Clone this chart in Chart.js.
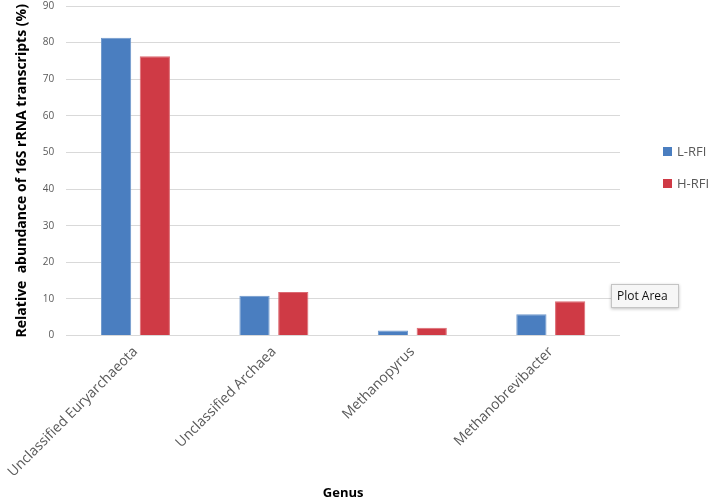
<!DOCTYPE html>
<html>
<head>
<meta charset="utf-8">
<script src="https://cdn.jsdelivr.net/npm/chart.js@4"></script>
<style>
  html, body { margin: 0; padding: 0; background: #fff; }
  #wrap { width: 714px; height: 501px; }
</style>
</head>
<body>
<div id="wrap"><canvas id="myChart"></canvas></div>
<script>
const genera = ["Unclassified Euryarchaeota", "Unclassified Archaea", "Methanopyrus", "Methanobrevibacter"];
const lowRfi = [81.3, 10.9, 1.4, 5.8];
const highRfi = [76.3, 11.9, 2.1, 9.4];
const seriesNames = ["L-RFI", "H-RFI"];
const yTicks = [0, 10, 20, 30, 40, 50, 60, 70, 80, 90];

// legend on the right, drawn by hand so it sits where the original one does
const sideLegend = {
    id: "sideLegend",
    afterDraw(chart) {
        const ctx = chart.ctx;
        ctx.save();
        chart.data.datasets.forEach((ds, i) => {
            const y = 152 + i * 32;
            ctx.fillStyle = ds.backgroundColor;
            ctx.fillRect(663, y - 5, 9, 9);
            ctx.fillStyle = "#595959";
            ctx.font = "13px 'Open Sans'";
            ctx.textBaseline = "middle";
            ctx.fillText(ds.label, 677, y);
        });
        // the "Plot Area" hover tip from the screenshot
        ctx.shadowColor = "rgba(0,0,0,0.25)";
        ctx.shadowBlur = 3;
        ctx.shadowOffsetY = 1;
        ctx.fillStyle = "#f6f6f6";
        ctx.fillRect(611, 284, 68, 24);
        ctx.shadowColor = "transparent";
        ctx.strokeStyle = "#c4c4c4";
        ctx.lineWidth = 1;
        ctx.strokeRect(611.5, 284.5, 67, 23);
        ctx.fillStyle = "#111";
        ctx.font = "12px 'Open Sans'";
        ctx.textBaseline = "middle";
        ctx.fillText("Plot Area", 617, 296.5);
        ctx.restore();
    }
};

new Chart("myChart", {
    type: "bar",
    data: {
        labels: genera,
        datasets: [{
            label: seriesNames[0],
            data: lowRfi,
            backgroundColor: "#4a7ec0",
            borderColor: "#6f98cc",
            borderWidth: 1,
            categoryPercentage: 0.56,
            barPercentage: 0.78
        }, {
            label: seriesNames[1],
            data: highRfi,
            backgroundColor: "#cf3a45",
            borderColor: "#dc6a72",
            borderWidth: 1,
            categoryPercentage: 0.56,
            barPercentage: 0.78
        }]
    },
    options: {
        responsive: true,
        maintainAspectRatio: false,
        animation: false,
        layout: { padding: { left: 14, right: 94, top: 0, bottom: 0 } },
        plugins: {
            legend: { display: false },
            tooltip: { enabled: false }
        },
        scales: {
            x: {
                grid: { display: false },
                border: { display: false },
                ticks: {
                    color: "#595959",
                    font: { family: "'Open Sans'", size: 14 },
                    maxRotation: 45,
                    minRotation: 45,
                    padding: 0
                },
                // the long first label may hang out to the left, as in the original
                afterFit: (scale) => { scale.paddingLeft = 0; },
                title: {
                    display: true,
                    text: "Genus",
                    color: "#000",
                    font: { family: "'Open Sans'", size: 13, weight: "bold" },
                    padding: { top: 5, bottom: 0 }
                }
            },
            y: {
                min: 0,
                max: 90,
                afterBuildTicks: (scale) => { scale.ticks = yTicks.map(v => ({ value: v })); },
                grid: { color: "#d9d9d9", drawTicks: true, tickLength: 12, tickColor: "transparent" },
                border: { display: false },
                ticks: {
                    color: "#595959",
                    font: { family: "'Open Sans'", size: 10 },
                    padding: 0
                },
                title: {
                    display: true,
                    text: "Relative  abundance of 16S rRNA transcripts (%)",
                    color: "#000",
                    font: { family: "'Open Sans'", size: 14, weight: "bold" },
                    padding: { top: 0, bottom: 12 }
                }
            }
        }
    },
    plugins: [sideLegend]
});
</script>
</body>
</html>
